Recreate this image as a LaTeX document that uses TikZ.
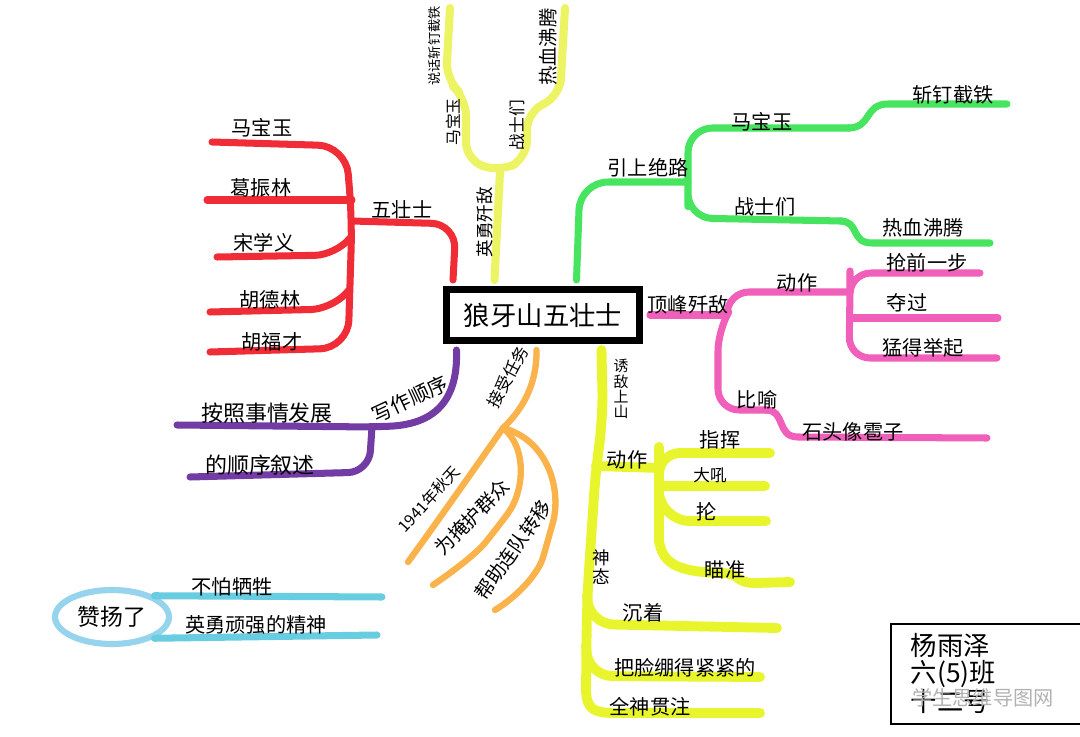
\documentclass[tikz,border=0pt]{standalone}
\usepackage{fontspec}
\setmainfont{Noto Sans CJK SC}
\usetikzlibrary{calc,shapes.geometric}
\definecolor{herored}{RGB}{240,45,55}
\definecolor{paleyellow}{RGB}{236,244,100}
\definecolor{lemon}{RGB}{232,245,45}
\definecolor{leafgreen}{RGB}{70,228,95}
\definecolor{rosepink}{RGB}{240,95,185}
\definecolor{grapepurple}{RGB}{115,60,165}
\definecolor{peach}{RGB}{250,178,75}
\definecolor{iceblue}{RGB}{150,212,238}
\definecolor{lakeblue}{RGB}{105,205,226}
\tikzset{
  limb/.style={line width=4pt, line cap=round, line join=round, rounded corners=10pt},
  word/.style={font=\fontsize{11.5}{12}\selectfont, inner sep=0pt},
}

\begin{document}
\begin{tikzpicture}[x=0.02cm, y=-0.02cm]
    \fill[white] (0,0) rectangle (1080,737);
    \useasboundingbox (0,0) rectangle (1080,737);
    \node[draw, line width=4pt, minimum width=3.86cm, minimum height=1.02cm,
      font=\fontsize{15}{15}\selectfont] (root) at (543,315) {狼牙山五壮士};

    \coordinate (redhub) at (352,221);
    \foreach \n/\x/\y in {1/212/142, 2/207/200, 3/217/257, 4/210/312, 5/210/352}
      \coordinate (red\n) at (\x,\y);
    \draw[limb,herored,rounded corners=14pt] ($(root.north west)+(10,-6)$) -- (456,224) -- (redhub);
    \draw[limb,herored,rounded corners=16pt] (red1) -- (346,146) -- (redhub) -- (348,348) -- (red5);
    \draw[limb,herored] (red2) -- (red2 -| redhub);
    \draw[limb,herored,rounded corners=12pt] (red3) -- (336,255) -- (350,238);
    \draw[limb,herored,rounded corners=12pt] (red4) -- (332,309) -- (349,290);
    \foreach \n/\x/\y/\txt in {wu/402/210/五壮士, r1/262/128/马宝玉, r2/261/188/葛振林,
        r3/264/243/宋学义, r4/270/300/胡德林, r5/272/342/胡福才}
      \node[word] (lab-\n) at (\x,\y) {\txt};

    \coordinate (valhub) at (500,172);
    \coordinate (valL) at (450,8);
    \coordinate (valR) at (565,8);
    \draw[limb,paleyellow,line width=4.6pt] ($(root.north west)+(51.5,-6)$) -- (valhub);
    \draw[limb,paleyellow,line width=4.6pt] (valL) -- (446,80) -- (466,98) -- (466,160)
      -- (valhub) -- (527,158) -- (527,112) -- (560,96) -- (valR);
    \node[word,rotate=90,font=\fontsize{10}{10}\selectfont] (lab-ying) at (485,222) {英勇歼敌};
    \node[word,rotate=90,font=\fontsize{9}{9}\selectfont] (lab-v1) at (453,122) {马宝玉};
    \node[word,rotate=90,font=\fontsize{9.5}{9.5}\selectfont] (lab-v2) at (517,125) {战士们};
    \node[word,rotate=90,font=\fontsize{7.5}{7.5}\selectfont] (lab-v3) at (434,46) {说话斩钉截铁};
    \node[word,rotate=90,font=\fontsize{11}{11}\selectfont] (lab-v4) at (548,47) {热血沸腾};

    \coordinate (roadhub) at (688,182);
    \coordinate (road1) at (1007,104);
    \coordinate (road2) at (990,243);
    \draw[limb,leafgreen,rounded corners=16pt] ($(root.north west)+(133.5,-6)$) -- (580,182) -- (roadhub);
    \draw[limb,leafgreen,rounded corners=14pt] (850,128) -- (688,128) -- (roadhub) -- (688,218) -- (842,221);
    \draw[limb,leafgreen,sharp corners] (road1) -- (888,104) .. controls (864,104) and (872,128) .. (848,128);
    \draw[limb,leafgreen,sharp corners] (840,221) .. controls (860,221) and (850,243) .. (872,243) -- (road2);
    \foreach \n/\x/\y/\txt in {g0/648/168/引上绝路, g1/762/122/马宝玉, g2/765/207/战士们,
        g3/953/95/斩钉截铁, g4/923/228/热血沸腾}
      \node[word] (lab-\n) at (\x,\y) {\txt};

    \coordinate (peakhub) at (727,315);
    \coordinate (acthub) at (850,292);
    \foreach \n/\x/\y in {1/980/273, 2/998/318, 3/997/358}
      \coordinate (act\n) at (\x,\y);
    \coordinate (simile) at (987,438);
    \draw[limb,rosepink] ($(root.east)+(7,0)$) -- (peakhub);
    \draw[limb,rosepink,rounded corners=12pt] (peakhub) -- (728,292) -- (acthub);
    \draw[limb,rosepink,rounded corners=12pt] (peakhub) -- (718,330) -- (718,410) -- (768,410);
    \draw[limb,rosepink,sharp corners] (766,410) .. controls (786,410) and (776,437) .. (798,437) -- (simile);
    \draw[limb,rosepink,rounded corners=12pt] (act1) -- (850,273) -- (acthub) -- (849,358) -- (act3);
    \draw[limb,rosepink] (acthub |- act2) -- (act2);
    \foreach \n/\x/\y/\txt in {p0/688/305/顶峰歼敌, p1/797/283/动作, p2/927/263/抢前一步,
        p3/907/303/夺过, p4/923/348/猛得举起, p5/757/400/比喻, p6/853/432/石头像雹子}
      \node[word] (lab-\n) at (\x,\y) {\txt};

    \coordinate (lurehub) at (596,466);
    \coordinate (lureact) at (659,468);
    \coordinate (calm) at (587,595);
    \coordinate (tight) at (586,645);
    \foreach \n/\x/\y in {1/777/628, 2/760/677, 3/760/713}
      \coordinate (lure\n) at (\x,\y);
    \foreach \n/\x/\y in {1/770/453, 2/765/486, 3/766/521, 4/790/582}
      \coordinate (cmd\n) at (\x,\y);
    \draw[limb,lemon,line width=5.6pt,rounded corners=16pt] ($(root.south west)+(158.5,6)$) -- (603,420)
      -- (lurehub) -- (587,600) -- (586,690);
    \draw[limb,lemon,line width=5.6pt,sharp corners] (586,688) .. controls (586,710) and (594,713) .. (616,713) -- (lure3);
    \draw[limb,lemon,line width=5.6pt,rounded corners=14pt] (calm) -- (589,624) -- (lure1);
    \draw[limb,lemon,line width=5.6pt,rounded corners=14pt] (tight) -- (588,676) -- (lure2);
    \draw[limb,lemon,line width=5.6pt] (lurehub) -- (lureact);
    \draw[limb,lemon,line width=5.6pt,rounded corners=12pt] (cmd1) -- (659,453) -- (lureact) -- (659,542);
    \draw[limb,lemon,line width=5.6pt,sharp corners] (659,540) .. controls (662,565) and (680,572) .. (722,573)
      .. controls (742,574) and (734,583) .. (756,583) -- (cmd4);
    \draw[limb,lemon,line width=5.6pt] (lureact |- cmd2) -- (cmd2);
    \draw[limb,lemon,line width=5.6pt,rounded corners=12pt] (659,495) -- (668,521) -- (cmd3);
    \node[word,font=\fontsize{8.5}{8.6}\selectfont,align=center] (lab-lure) at (621,389) {诱\\敌\\上\\山};
    \node[word,font=\fontsize{10}{11.2}\selectfont,align=center] (lab-look) at (601,567) {神\\态};
    \foreach \n/\x/\y/\txt in {y1/627/460/动作, y2/720/440/指挥, y4/707/512/抡, y5/725/570/瞄准,
        y6/643/613/沉着, y7/685/668/把脸绷得紧紧的, y8/650/707/全神贯注}
      \node[word] (lab-\n) at (\x,\y) {\txt};
    \node[word,font=\fontsize{9.5}{10}\selectfont] (lab-y3) at (710,475) {大吼};

    \coordinate (orderhub) at (372,427);
    \coordinate (order1) at (177,425);
    \coordinate (order2) at (190,477);
    \draw[limb,grapepurple] ($(root.south west)+(13.5,6)$) .. controls (458,395) and (440,424) .. (orderhub) -- (order1);
    \draw[limb,grapepurple,rounded corners=12pt] (orderhub) -- (369,472) -- (order2);
    \node[word,rotate=25] (lab-order) at (410,399) {写作顺序};
    \node[word,font=\fontsize{12.5}{13}\selectfont] (lab-o1) at (267,413) {按照事情发展};
    \node[word,font=\fontsize{12.5}{13}\selectfont] (lab-o2) at (260,465) {的顺序叙述};

    \coordinate (taskhub) at (503,428);
    \foreach \n/\x/\y in {1/408/562, 2/433/585, 3/495/610}
      \coordinate (task\n) at (\x,\y);
    \draw[limb,peach,line width=3.6pt] ($(root.south west)+(93.5,6)$) .. controls (537,385) and (522,410) .. (taskhub);
    \draw[limb,peach,line width=3.6pt] (taskhub) .. controls (482,458) and (435,525) .. (task1);
    \draw[limb,peach,line width=3.6pt] (taskhub) .. controls (528,448) and (524,492) .. (497,528)
      .. controls (477,553) and (455,570) .. (task2);
    \draw[limb,peach,line width=3.6pt] (taskhub) .. controls (548,440) and (562,490) .. (548,540)
      .. controls (538,575) and (515,598) .. (task3);
    \node[word,rotate=62,font=\fontsize{9.5}{10}\selectfont] (lab-task) at (508,377) {接受任务};
    \node[word,rotate=48,font=\fontsize{9}{9}\selectfont] (lab-t1) at (429,499) {1941年秋天};
    \node[word,rotate=46,font=\fontsize{11}{11}\selectfont] (lab-t2) at (472,517) {为掩护群众};
    \node[word,rotate=55,font=\fontsize{11}{11}\selectfont] (lab-t3) at (513,550) {帮助连队转移};

    \node[ellipse, draw=iceblue, line width=3.5pt, minimum width=2.28cm, minimum height=1.08cm,
      font=\fontsize{13}{13}\selectfont] (praise) at (112,617) {赞扬了};
    \coordinate (praise1) at (382,597);
    \coordinate (praise2) at (377,635);
    \draw[limb,lakeblue] (praise.north east) -- (praise1);
    \draw[limb,lakeblue] (praise.south east) -- (praise2);
    \node[word] (lab-b1) at (232,587) {不怕牺牲};
    \node[word] (lab-b2) at (256,625) {英勇顽强的精神};

    \node[draw, line width=0.9pt, anchor=north west, minimum height=2cm, text width=3.4cm,
      inner xsep=0.4cm, align=left, font=\fontsize{15}{15.5}\selectfont] (card) at (890,623)
      {杨雨泽\\六(5)班\\十二号};
    \node[word, text=black!30] (mark) at (983,698) {学生思维导图网};
  \end{tikzpicture}
\end{document}
